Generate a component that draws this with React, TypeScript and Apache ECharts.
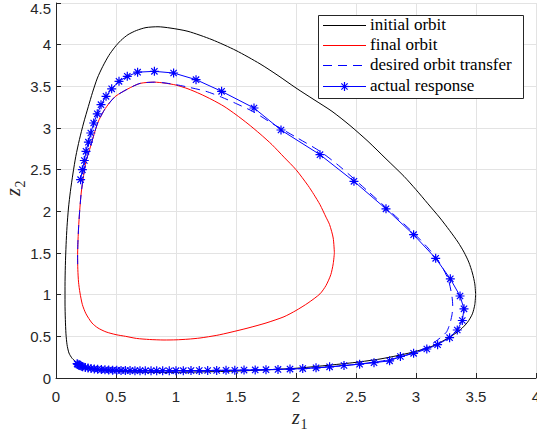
import React, { useEffect, useRef } from "react";
import * as echarts from "echarts";

const xTickStep = 0.5;
const yTickStep = 0.5;

const legendLabels = ["initial orbit", "final orbit", "desired orbit transfer", "actual response"];

const initialOrbit: [number, number][] = [
  [3.497, 1.0], [3.49, 1.13], [3.47, 1.26], [3.44, 1.39], [3.4, 1.51], [3.35, 1.63], [3.28, 1.77],
  [3.2, 1.92], [3.1, 2.09], [3.0, 2.26], [2.9, 2.42], [2.75, 2.63], [2.6, 2.84], [2.45, 3.03],
  [2.3, 3.2], [2.15, 3.34], [2.0, 3.48], [1.85, 3.63], [1.7, 3.77], [1.5, 3.93], [1.3, 4.06],
  [1.1, 4.16], [0.95, 4.2], [0.85, 4.215], [0.75, 4.205], [0.67, 4.17], [0.6, 4.12], [0.54, 4.05],
  [0.49, 3.97], [0.44, 3.87], [0.39, 3.74], [0.345, 3.6], [0.305, 3.43], [0.27, 3.26], [0.23, 3.06],
  [0.195, 2.86], [0.165, 2.66], [0.142, 2.46], [0.12, 2.24], [0.104, 2.04], [0.092, 1.82],
  [0.084, 1.6], [0.078, 1.35], [0.075, 1.1], [0.075, 0.9], [0.078, 0.7], [0.083, 0.53], [0.092, 0.4],
  [0.108, 0.3], [0.135, 0.235], [0.17, 0.19], [0.2, 0.165], [0.25, 0.132], [0.3, 0.112], [0.4, 0.09],
  [0.5, 0.08], [0.7, 0.07], [0.875, 0.067], [1.1, 0.07], [1.3, 0.076], [1.5, 0.083], [1.75, 0.098],
  [2.0, 0.117], [2.25, 0.15], [2.5, 0.188], [2.7, 0.228], [2.85, 0.27], [3.0, 0.32], [3.15, 0.39],
  [3.28, 0.49], [3.37, 0.58], [3.43, 0.67], [3.47, 0.77], [3.49, 0.88], [3.497, 1.0],
];

const finalOrbit: [number, number][] = [
  [2.32, 1.5], [2.31, 1.68], [2.28, 1.84], [2.25, 1.93], [2.2, 2.08], [2.15, 2.2], [2.1, 2.31],
  [2.0, 2.5], [1.9, 2.65], [1.8, 2.8], [1.7, 2.93], [1.6, 3.05], [1.5, 3.16], [1.4, 3.26], [1.3, 3.34],
  [1.2, 3.41], [1.1, 3.47], [1.0, 3.515], [0.9, 3.54], [0.82, 3.55], [0.7, 3.535], [0.6, 3.47],
  [0.5, 3.385], [0.45, 3.31], [0.4, 3.21], [0.35, 3.07], [0.31, 2.89], [0.28, 2.74], [0.25, 2.6],
  [0.23, 2.43], [0.21, 2.22], [0.197, 2.0], [0.188, 1.8], [0.182, 1.6], [0.18, 1.45], [0.182, 1.3],
  [0.188, 1.15], [0.2, 1.02], [0.22, 0.88], [0.25, 0.77], [0.3, 0.66], [0.35, 0.6], [0.417, 0.553],
  [0.5, 0.52], [0.58, 0.5], [0.67, 0.475], [0.78, 0.462], [0.9, 0.456], [1.0, 0.458], [1.1, 0.466],
  [1.2, 0.48], [1.34, 0.512], [1.45, 0.547], [1.6, 0.6], [1.75, 0.66], [1.9, 0.735], [2.0, 0.81],
  [2.1, 0.9], [2.2, 1.01], [2.25, 1.11], [2.29, 1.24], [2.31, 1.37], [2.32, 1.5],
];

const desiredTransfer: [number, number][] = [
  [0.18, 0.17], [0.2, 0.155], [0.25, 0.127], [0.3, 0.11], [0.4, 0.095], [0.5, 0.088], [0.7, 0.082],
  [0.9, 0.08], [1.1, 0.082], [1.3, 0.085], [1.5, 0.09], [1.7, 0.096], [1.9, 0.104], [2.1, 0.116],
  [2.3, 0.135], [2.5, 0.163], [2.7, 0.2], [2.85, 0.245], [3.0, 0.31], [3.1, 0.375], [3.16, 0.436],
  [3.214, 0.496], [3.256, 0.556], [3.283, 0.656], [3.3, 0.76], [3.306, 0.86], [3.3, 0.976],
  [3.27, 1.176], [3.2, 1.376], [3.1, 1.56], [2.98, 1.74], [2.8, 1.98], [2.6, 2.24], [2.367, 2.536],
  [2.2, 2.72], [2.0, 2.89], [1.8, 3.056], [1.644, 3.196], [1.506, 3.29], [1.38, 3.37], [1.25, 3.44],
  [1.103, 3.49], [1.0, 3.52], [0.9, 3.542], [0.82, 3.55], [0.7, 3.535], [0.6, 3.47], [0.5, 3.385],
  [0.45, 3.31], [0.4, 3.21], [0.35, 3.07], [0.31, 2.89], [0.28, 2.74], [0.25, 2.6], [0.23, 2.43],
  [0.21, 2.22], [0.197, 2.0], [0.188, 1.8], [0.182, 1.6], [0.18, 1.45], [0.181, 1.34],
];

const actualResponse: [number, number][] = [
  [0.176, 0.172], [0.181, 0.164], [0.19, 0.156], [0.2, 0.149], [0.211, 0.142], [0.222, 0.136],
  [0.244, 0.127], [0.267, 0.12], [0.292, 0.114], [0.319, 0.109], [0.347, 0.105], [0.378, 0.101],
  [0.408, 0.098], [0.439, 0.096], [0.472, 0.094], [0.506, 0.092], [0.542, 0.091], [0.578, 0.09],
  [0.617, 0.089], [0.658, 0.088], [0.7, 0.088], [0.744, 0.087], [0.792, 0.087], [0.839, 0.087],
  [0.889, 0.087], [0.944, 0.087], [1.0, 0.088], [1.061, 0.088], [1.125, 0.089], [1.194, 0.089],
  [1.264, 0.09], [1.339, 0.091], [1.417, 0.092], [1.49, 0.093], [1.567, 0.095], [1.66, 0.097],
  [1.75, 0.1], [1.85, 0.103], [1.95, 0.107], [2.056, 0.113], [2.167, 0.122], [2.28, 0.134],
  [2.4, 0.15], [2.53, 0.166], [2.65, 0.184], [2.78, 0.206], [2.87, 0.258], [2.98, 0.296],
  [3.09, 0.348], [3.18, 0.4], [3.28, 0.484], [3.344, 0.576], [3.386, 0.69], [3.4, 0.83],
  [3.367, 0.984], [3.286, 1.19], [3.164, 1.436], [2.98, 1.72], [2.75, 2.03], [2.483, 2.36],
  [2.2, 2.68], [1.875, 2.976], [1.65, 3.24], [1.38, 3.44], [1.167, 3.58], [0.98, 3.66], [0.82, 3.68],
  [0.68, 3.67], [0.594, 3.62], [0.525, 3.56], [0.464, 3.47], [0.417, 3.38], [0.375, 3.28],
  [0.344, 3.17], [0.314, 3.06], [0.29, 2.94], [0.27, 2.83], [0.25, 2.72], [0.236, 2.61], [0.22, 2.5],
  [0.205, 2.38],
];

const ASTERISK = "path://M5 0 L5 10 M0 5 L10 5 M1.5 1.5 L8.5 8.5 M1.5 8.5 L8.5 1.5";
const AXIS_COLOR = "#262626";
const GRID_COLOR = "#e3e3e3";
const BLUE = "#0000ff";
const SERIF = "'Liberation Serif', 'Times New Roman', serif";
const SANS = "'Liberation Sans', Arial, sans-serif";

export default function App() {
  const ref = useRef<HTMLDivElement>(null);

  useEffect(() => {
    document.body.style.margin = "0";
    const chart = echarts.init(ref.current!, null, { renderer: "svg" });

    const legendX = 318.5;
    const legendY = 15.5;
    const rowYs = [25.5, 45.5, 65.5, 86.5];
    const lineX1 = 323;
    const lineX2 = 366;
    const legendStyles = [
      { stroke: "#000000", lineDash: null as any },
      { stroke: "#ff0000", lineDash: null as any },
      { stroke: BLUE, lineDash: [9, 6] },
      { stroke: BLUE, lineDash: null as any },
    ];
    const graphic: any[] = [
      {
        type: "rect",
        z: 100,
        shape: { x: legendX, y: legendY, width: 205, height: 83 },
        style: { fill: "#ffffff", stroke: AXIS_COLOR, lineWidth: 1 },
      },
    ];
    legendLabels.forEach((label, i) => {
      graphic.push({
        type: "line",
        z: 101,
        shape: { x1: lineX1, y1: rowYs[i], x2: lineX2, y2: rowYs[i] },
        style: { stroke: legendStyles[i].stroke, lineWidth: 1, lineDash: legendStyles[i].lineDash },
      });
      graphic.push({
        type: "text",
        z: 101,
        x: 370,
        y: rowYs[i] - 1,
        style: {
          text: label,
          fill: "#000000",
          fontFamily: SERIF,
          fontSize: 17,
          textVerticalAlign: "middle",
          verticalAlign: "middle",
        },
      });
    });
    const cx = (lineX1 + lineX2) / 2;
    const cy = rowYs[3];
    const r = 4.5;
    const d = r * 0.7;
    [
      [cx, cy - r, cx, cy + r],
      [cx - r, cy, cx + r, cy],
      [cx - d, cy - d, cx + d, cy + d],
      [cx - d, cy + d, cx + d, cy - d],
    ].forEach(([x1, y1, x2, y2]) => {
      graphic.push({
        type: "line",
        z: 102,
        shape: { x1, y1, x2, y2 },
        style: { stroke: BLUE, lineWidth: 1.2 },
      });
    });
    // axis names
    graphic.push(
      {
        type: "text",
        x: 296,
        y: 417,
        style: {
          text: "z",
          fill: AXIS_COLOR,
          fontFamily: SERIF,
          fontStyle: "italic",
          fontSize: 20,
          textAlign: "center",
          align: "center",
          textVerticalAlign: "middle",
          verticalAlign: "middle",
        },
      },
      {
        type: "text",
        x: 304,
        y: 424,
        style: {
          text: "1",
          fill: AXIS_COLOR,
          fontFamily: SERIF,
          fontSize: 14,
          textAlign: "center",
          align: "center",
          textVerticalAlign: "middle",
          verticalAlign: "middle",
        },
      },
      {
        type: "text",
        x: 13,
        y: 192,
        rotation: Math.PI / 2,
        style: {
          text: "z",
          fill: AXIS_COLOR,
          fontFamily: SERIF,
          fontStyle: "italic",
          fontSize: 20,
          textAlign: "center",
          align: "center",
          textVerticalAlign: "middle",
          verticalAlign: "middle",
        },
      },
      {
        type: "text",
        x: 20,
        y: 184,
        rotation: Math.PI / 2,
        style: {
          text: "2",
          fill: AXIS_COLOR,
          fontFamily: SERIF,
          fontSize: 14,
          textAlign: "center",
          align: "center",
          textVerticalAlign: "middle",
          verticalAlign: "middle",
        },
      }
    );

    const axisCommon = {
      type: "value" as const,
      axisLine: { show: true, onZero: false, lineStyle: { color: AXIS_COLOR, width: 1 } },
      axisTick: { show: true, inside: true, length: 5, lineStyle: { color: AXIS_COLOR, width: 1 } },
      splitLine: { show: true, lineStyle: { color: GRID_COLOR, width: 1 } },
    };

    chart.setOption({
      animation: false,
      backgroundColor: "#ffffff",
      grid: { left: 56, right: 1, top: 3, bottom: 55, containLabel: false, outerBoundsMode: "none" },
      xAxis: {
        ...axisCommon,
        min: 0,
        max: 4,
        interval: xTickStep,
        axisLabel: {
          color: AXIS_COLOR,
          fontFamily: SANS,
          fontSize: 15,
          margin: 11,
          showMaxLabel: true,
          showMinLabel: true,
          hideOverlap: false,
        },
      },
      yAxis: {
        ...axisCommon,
        min: 0,
        max: 4.5,
        interval: yTickStep,
        axisLabel: {
          color: AXIS_COLOR,
          fontFamily: SANS,
          fontSize: 15,
          margin: 5,
          showMaxLabel: true,
          showMinLabel: true,
          hideOverlap: false,
          formatter: (v: number) => (v === 4.5 ? "{top|4.5}" : String(v)),
          rich: {
            top: {
              color: AXIS_COLOR,
              fontFamily: SANS,
              fontSize: 15,
              padding: [10, 0, 0, 0],
            },
          },
        },
      },
      series: [
        {
          name: legendLabels[0],
          type: "line",
          data: initialOrbit,
          symbol: "none",
          showSymbol: false,
          silent: true,
          smooth: 0.25,
          lineStyle: { color: "#000000", width: 1 },
          z: 2,
        },
        {
          name: legendLabels[1],
          type: "line",
          data: finalOrbit,
          symbol: "none",
          showSymbol: false,
          silent: true,
          smooth: 0.25,
          lineStyle: { color: "#ff0000", width: 1 },
          z: 3,
        },
        {
          name: legendLabels[2],
          type: "line",
          data: desiredTransfer,
          symbol: "none",
          showSymbol: false,
          silent: true,
          smooth: 0.25,
          lineStyle: { color: BLUE, width: 1, type: [9, 6] },
          z: 4,
        },
        {
          name: legendLabels[3],
          type: "line",
          data: actualResponse,
          symbol: ASTERISK,
          symbolSize: 9,
          showSymbol: true,
          showAllSymbol: true,
          silent: true,
          itemStyle: { color: BLUE, borderColor: BLUE, borderWidth: 1.2 },
          lineStyle: { color: BLUE, width: 1 },
          z: 5,
        },
      ],
      graphic,
    });

    return () => chart.dispose();
  }, []);

  return <div ref={ref} style={{ width: 537, height: 433 }} />;
}
